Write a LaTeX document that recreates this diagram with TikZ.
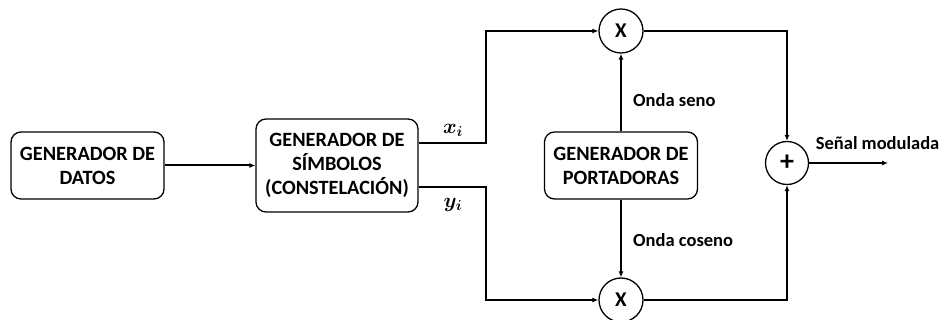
\documentclass[tikz,border=0pt]{standalone}
\usepackage{fontspec}
\setmainfont{Carlito}
\usetikzlibrary{arrows.meta}
\tikzset{
  blk/.style={draw, line width=1.3pt, rounded corners=10pt, align=center,
    font=\fontsize{20.3}{24}\selectfont\bfseries, inner sep=2pt},
  circ/.style={draw, circle, line width=1.3pt, minimum size=44pt, inner sep=0pt,
    font=\fontsize{21}{22}\selectfont\bfseries},
  arr/.style={line width=2pt, -{Latex[length=6pt,width=5pt]}},
  lbl/.style={font=\fontsize{18.5}{20}\selectfont\bfseries, inner sep=0pt},
  mlbl/.style={font=\fontsize{21}{22}\selectfont\mathversion{bold}, inner sep=0pt}
}
\begin{document}
\begin{tikzpicture}[x=1pt,y=-1pt]
\useasboundingbox (0,0) rectangle (941,320);
\node[blk, minimum width=153pt, minimum height=67pt] (datos) at (87.5,165.5) {GENERADOR DE\\DATOS};
\node[blk, minimum width=162pt, minimum height=93pt] (simb) at (337,165.5) {GENERADOR DE\\SÍMBOLOS\\(CONSTELACIÓN)};
\node[blk, minimum width=153pt, minimum height=67pt] (port) at (621,165.5) {GENERADOR DE\\PORTADORAS};
\node[circ] (m1) at (621,31) {X};
\node[circ] (m2) at (621,300) {X};
\node[circ, minimum size=43pt, font=\fontsize{28}{28}\selectfont\bfseries] (sum) at (787,163) {+};
\coordinate (out) at (888,163);

\draw[arr] (datos) -- (simb);
\draw[arr] ([yshift=22.5pt]simb.east) -- ++(67,0) |- (m1);
\draw[arr] ([yshift=-21.5pt]simb.east) -- ++(67,0) |- (m2);
\draw[arr] (port) -- (m1);
\draw[arr] (port) -- (m2);
\draw[arr] (m1) -| (sum);
\draw[arr] (m2) -| (sum);
\draw[arr] (sum) -- (out);

\node[mlbl] (xl) at (453,130) {$x_i$};
\node[mlbl] (yl) at (453,205) {$y_i$};
\node[lbl, anchor=west] (seno) at (633,100) {Onda seno};
\node[lbl, anchor=west] (coseno) at (633,240) {Onda coseno};
\node[lbl, anchor=east] (senal) at (939.5,143) {Señal modulada};
\end{tikzpicture}
\end{document}
